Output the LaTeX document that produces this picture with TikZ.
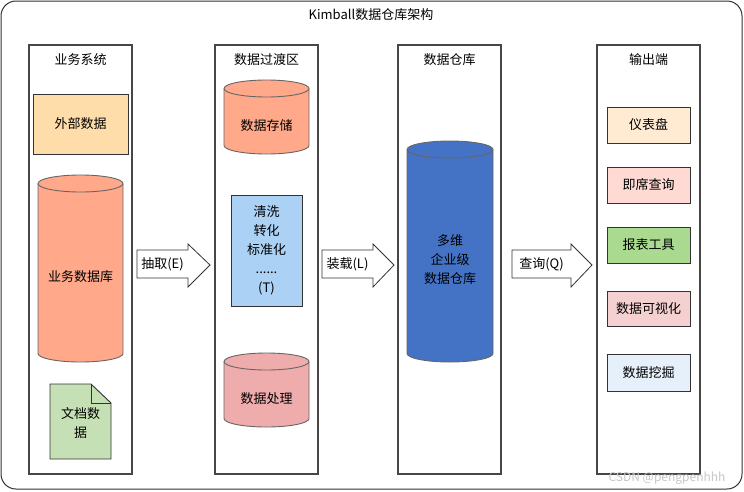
\documentclass[tikz,border=0pt]{standalone}
\usepackage{fontspec}
\setmainfont{Noto Sans CJK SC}
\definecolor{cExt}{HTML}{FFDDAB}
\definecolor{cSalmon}{HTML}{FFA88A}
\definecolor{cDoc}{HTML}{C5E0B4}
\definecolor{cClean}{HTML}{ABD1F5}
\definecolor{cProc}{HTML}{EFACAC}
\definecolor{cDW}{HTML}{4472C4}
\definecolor{cDash}{HTML}{FFEAD2}
\definecolor{cAdhoc}{HTML}{FFDAD4}
\definecolor{cReport}{HTML}{A9DA8F}
\definecolor{cVis}{HTML}{F5D0D0}
\definecolor{cMine}{HTML}{E6F0FA}
\definecolor{cLine}{HTML}{333333}
\definecolor{cCyl}{HTML}{666666}
\newcommand{\mycyl}[6]{%
  \pgfmathsetmacro\myrx{(#3-#2)/2}%
  \draw[cylst, fill=#6] (#2,-#4-8.5) -- (#2,-#5+8.5)
     arc[start angle=180,end angle=360,x radius=\myrx,y radius=8.5]
     -- (#3,-#4-8.5)
     arc[start angle=0,end angle=180,x radius=\myrx,y radius=8.5] -- cycle;
  \draw[cylst] (#2,-#4-8.5) arc[start angle=180,end angle=360,x radius=\myrx,y radius=8.5];
  \coordinate (#1) at ({(#2+#3)/2},{-(#4+#5)/2-8.5});
}
\newcommand{\blockarrow}[5]{%
  \draw[arrst] (#2,-250) -- (#3,-250) -- (#3,-244) -- (#4,-265) -- (#3,-287) -- (#3,-278) -- (#2,-278) -- cycle;
  \node (#1) at ({(#2+#3)/2},-264.5) {#5};
}
\begin{document}
\begin{tikzpicture}[x=1pt,y=1pt,
  every node/.style={font=\fontsize{13}{19}\selectfont, text=black, inner sep=0pt, outer sep=0pt},
  outerbox/.style={draw=cLine, line width=1pt, rounded corners=15pt},
  colbox/.style={draw=cLine!90, line width=1.6pt, anchor=north west},
  rbox/.style={draw=cLine, line width=0.9pt},
  cylst/.style={draw=cCyl, line width=0.9pt},
  arrst/.style={draw=cLine, line width=0.8pt, fill=white}]
\useasboundingbox (0,0) rectangle (744,-491);
\draw[outerbox] (1,-1) rectangle (742,-489);
\node (title) at (371,-15) {Kimball数据仓库架构};

% columns
\node[colbox, minimum width=103, minimum height=429] (col1) at (29,-45) {};
\node[colbox, minimum width=103, minimum height=429] (col2) at (215,-45) {};
\node[colbox, minimum width=103, minimum height=429] (col3) at (398,-45) {};
\node[colbox, minimum width=103, minimum height=429] (col4) at (597,-45) {};
\node (t1) at (80.5,-60) {业务系统};
\node (t2) at (266.5,-60) {数据过渡区};
\node (t3) at (449.5,-60) {数据仓库};
\node (t4) at (648.5,-60) {输出端};

% column 1
\node[rbox, fill=cExt, minimum width=95, minimum height=60] (ext) at (80.5,-124) {外部数据};
\mycyl{bizc}{38}{123}{175}{362}{cSalmon}
\node (biz) at (bizc) {业务数据库};
\draw[rbox, fill=cDoc] (50,-384) -- (91,-384) -- (111,-403) -- (111,-459) -- (50,-459) -- cycle;
\draw[rbox] (91,-384) -- (91,-403) -- (111,-403);
\node[align=center] (doc) at (80.5,-423) {文档数\\据};

% column 2
\mycyl{storec}{224}{309}{80}{154}{cSalmon}
\node (store) at (storec) {数据存储};
\node[rbox, fill=cClean, minimum width=71, minimum height=111, align=center] (clean) at (266.5,-250.5) {清洗\\转化\\标准化\\......\\(T)};
\mycyl{procc}{224}{309}{353}{427}{cProc}
\node (proc) at (procc) {数据处理};

% column 3
\mycyl{dwc}{407}{493}{141}{362}{cDW}
\node[align=center] (dw) at (dwc) {多维\\企业级\\数据仓库};

% column 4
\node[rbox, fill=cDash, minimum width=83, minimum height=36] (dash) at (648.5,-125) {仪表盘};
\node[rbox, fill=cAdhoc, minimum width=83, minimum height=36] (adhoc) at (648.5,-185) {即席查询};
\node[rbox, fill=cReport, minimum width=83, minimum height=36] (report) at (648.5,-245) {报表工具};
\node[rbox, fill=cVis, minimum width=83, minimum height=35] (vis) at (648.5,-309) {数据可视化};
\node[rbox, fill=cMine, minimum width=83, minimum height=37] (mine) at (648.5,-372.5) {数据挖掘};

% block arrows
\blockarrow{ae}{137}{188}{210}{抽取(E)}
\blockarrow{al}{322}{373}{394}{装载(L)}
\blockarrow{aq}{512}{571}{592}{查询(Q)}

\node[text=gray!45, font=\fontsize{12}{14}\selectfont] (wm) at (667,-478) {CSDN @pengpenhhh};
\end{tikzpicture}
\end{document}
